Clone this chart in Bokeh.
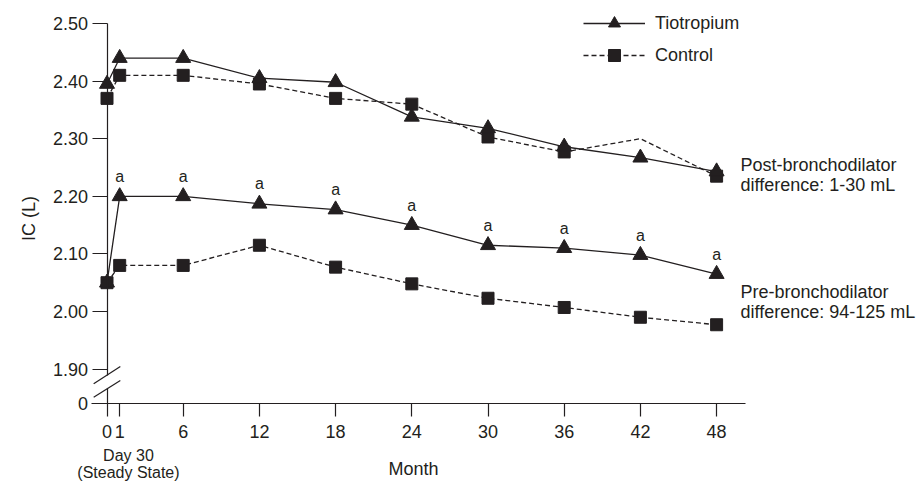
import math
from bokeh.plotting import figure
from bokeh.models import (FixedTicker, Label, Legend, LegendItem, ColumnDataSource,
                          CDSView, IndexFilter, LinearAxis)
from bokeh.core.properties import value
from bokeh.embed import file_html
from bokeh.resources import INLINE

# ---------------- data ----------------
months = [0, 1, 6, 12, 18, 24, 30, 36, 42, 48]
month_labels = ["0", "1", "6", "12", "18", "24", "30", "36", "42", "48"]

tio_post = [2.395, 2.44, 2.44, 2.405, 2.398, 2.338, 2.318, 2.286, 2.267, 2.243]
ctrl_post = [2.37, 2.41, 2.41, 2.395, 2.37, 2.36, 2.303, 2.277, 2.30, 2.235]
tio_pre = [2.05, 2.20, 2.20, 2.187, 2.177, 2.15, 2.115, 2.11, 2.098, 2.065]
ctrl_pre = [2.05, 2.08, 2.08, 2.115, 2.077, 2.048, 2.023, 2.007, 1.99, 1.977]

ctrl_post_unmarked_months = [42]                 # no marker drawn at this visit
sig_months = [1, 6, 12, 18, 24, 30, 36, 42, 48]  # "a" = significant

y_ticks = [1.90, 2.00, 2.10, 2.20, 2.30, 2.40, 2.50]
y_tick_labels = ["1.90", "2.00", "2.10", "2.20", "2.30", "2.40", "2.50"]
y_zero_tick = 1.84          # position standing in for the broken-axis "0"
y_zero_label = "0"

series_names = ["Tiotropium", "Control"]
post_note = ["Post-bronchodilator", "difference: 1-30 mL"]
pre_note = ["Pre-bronchodilator", "difference: 94-125 mL"]

# ---------------- style ----------------
INK = "#231f20"
FONT = "Liberation Sans"
FS = "18px"
W, H = 919, 482

X_RANGE = (-8.3858, 63.976)
Y_RANGE = (1.70313, 2.53993)
X_AXIS_BOUNDS = (-1.22, 50.28)
BREAK = (1.8655, 1.8895)    # gap in the y axis line
BREAK_HALF_W = 1.05
break1 = (1.8745, 1.9045)
break2 = (1.8512, 1.8802)

p = figure(width=W, height=H, x_range=X_RANGE, y_range=Y_RANGE,
           output_backend="svg", toolbar_location=None,
           x_axis_location=None, y_axis_location=None, min_border=0)
p.outline_line_color = None
p.grid.visible = False
p.background_fill_color = "white"
p.border_fill_color = "white"


def style_axis(ax, tick_out):
    ax.axis_line_color = INK
    ax.axis_line_width = 1.2
    ax.major_tick_in = 0
    ax.major_tick_out = tick_out
    ax.major_tick_line_color = INK
    ax.major_tick_line_width = 1.2
    ax.minor_tick_line_color = None
    ax.major_label_text_font = FONT
    ax.major_label_text_font_size = FS
    ax.major_label_text_color = INK


# x axis at the broken "0" level
xax = LinearAxis(fixed_location=y_zero_tick, bounds=X_AXIS_BOUNDS,
                 ticker=FixedTicker(ticks=months),
                 major_label_overrides={m: l for m, l in zip(months, month_labels)})
style_axis(xax, 13)
xax.major_label_standoff = 8
p.add_layout(xax, "below")

# y axis (upper part) at month 0
yax = LinearAxis(fixed_location=0, bounds=(BREAK[1], y_ticks[-1]),
                 ticker=FixedTicker(ticks=y_ticks),
                 major_label_overrides={t: l for t, l in zip(y_ticks, y_tick_labels)})
style_axis(yax, 15)
yax.major_label_standoff = 4
p.add_layout(yax, "left")

# y axis (below the break) carrying the "0"
yax0 = LinearAxis(fixed_location=0, bounds=(y_zero_tick, BREAK[0]),
                  ticker=FixedTicker(ticks=[y_zero_tick]),
                  major_label_overrides={y_zero_tick: y_zero_label})
style_axis(yax0, 15)
yax0.major_label_standoff = 4
p.add_layout(yax0, "left")

# break marks
p.segment(x0=[-BREAK_HALF_W, -BREAK_HALF_W], y0=[break1[0], break2[0]],
          x1=[BREAK_HALF_W, BREAK_HALF_W], y1=[break1[1], break2[1]],
          line_color=INK, line_width=1.2)

# ---------------- series ----------------
def draw(yvals, dash, marker, size, skip=()):
    src = ColumnDataSource(dict(x=months, y=yvals))
    ln = p.line("x", "y", source=src, line_color=INK, line_width=1.3, line_dash=dash)
    keep = [i for i, m in enumerate(months) if m not in skip]
    sc = p.scatter("x", "y", source=src, marker=marker, size=size,
                   fill_color=INK, line_color=INK,
                   view=CDSView(filter=IndexFilter(indices=keep)))
    return ln, sc


l_cp, s_cp = draw(ctrl_post, "5 3", "square", 12, ctrl_post_unmarked_months)
l_tp, s_tp = draw(tio_post, "solid", "triangle", 15)
l_cr, s_cr = draw(ctrl_pre, "5 3", "square", 12)
l_tr, s_tr = draw(tio_pre, "solid", "triangle", 15)

sig_y = [tio_pre[months.index(m)] for m in sig_months]
p.text(x=sig_months, y=sig_y, text=["a"] * len(sig_months), y_offset=-20,
       text_align="center", text_baseline="middle", text_font=value(FONT),
       text_font_size="16px", text_color=INK)

legend = Legend(items=[LegendItem(label=series_names[0], renderers=[l_tp, s_tp]),
                       LegendItem(label=series_names[1], renderers=[l_cp, s_cp])],
                location=(583, 412), orientation="vertical",
                glyph_width=62, glyph_height=30, label_height=30, spacing=2,
                label_standoff=10, padding=0, margin=0,
                border_line_color=None, background_fill_alpha=0,
                label_text_font=FONT, label_text_font_size=FS,
                label_text_color=INK)
p.add_layout(legend)


def lab(x, y, t, align="left", angle=0.0, size=FS):
    p.add_layout(Label(x=x, y=y, text=t, text_align=align, text_baseline="middle",
                       angle=angle, text_font=FONT, text_font_size=size,
                       text_color=INK))


NOTE_X = 49.88
lab(NOTE_X, 2.2535, post_note[0])
lab(NOTE_X, 2.2188, post_note[1])
lab(NOTE_X, 2.0335, pre_note[0])
lab(NOTE_X, 1.9988, pre_note[1])

lab(1.69, 1.750, "Day 30", "center", size="16px")
lab(1.69, 1.7205, "(Steady State)", "center", size="16px")
lab(24.13, 1.7257, "Month", "center")
lab(-6.18, 2.1615, "IC (L)", "center", math.pi / 2)

open("out.html", "w").write(file_html(p, INLINE))
